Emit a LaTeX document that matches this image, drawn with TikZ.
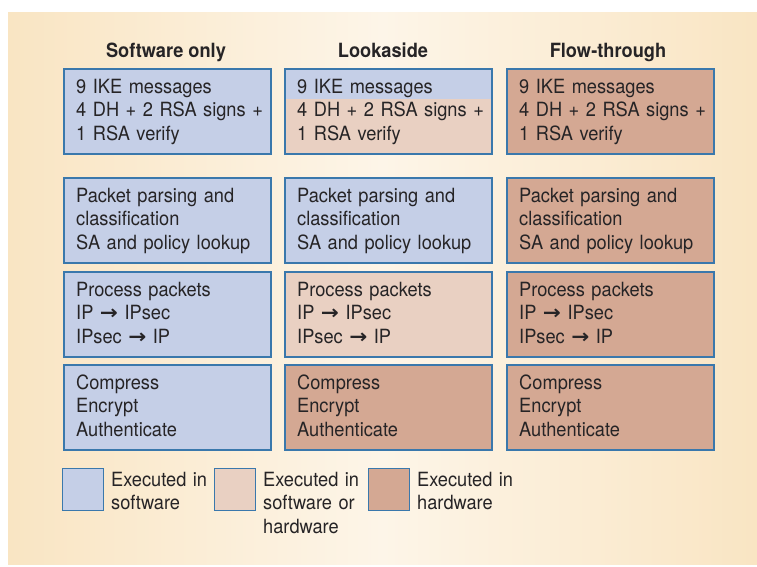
\documentclass[tikz,border=0pt]{standalone}
\usepackage{fontspec}
\setmainfont{TeX Gyre Heros}[FakeStretch=0.93]
\newfontfamily\arrowfont{DejaVu Sans}[FakeStretch=1.1]
\definecolor{bgedge}{RGB}{249,229,195}
\definecolor{bgmid}{RGB}{253,245,232}
\definecolor{swblue}{RGB}{197,207,231}
\definecolor{swhw}{RGB}{233,208,194}
\definecolor{hwbrown}{RGB}{212,168,147}
\definecolor{bordc}{RGB}{58,120,172}
\definecolor{txtc}{RGB}{38,36,38}
\newcommand{\rarr}{{\arrowfont\bfseries →}}
\tikzset{
  cell/.style={draw=bordc, line width=1.4pt, anchor=north west, minimum width=207pt, minimum height=85pt, inner sep=0pt, outer sep=0pt},
  legsq/.style={draw=bordc, line width=1.4pt, anchor=north west, minimum width=41pt, minimum height=42pt, inner sep=0pt},
  txt/.style={anchor=base west, inner sep=0pt, text=txtc, text width=200pt, align=left, font=\fontsize{19.6}{23.6}\selectfont},
  ttl/.style={anchor=base, inner sep=0pt, text=txtc, font=\fontsize{19.6}{22}\selectfont\bfseries},
}
\begin{document}
\begin{tikzpicture}[x=1pt,y=-1pt]
\useasboundingbox (0,0) rectangle (757,566);
\fill[white] (0,0) rectangle (757,566);
\shade[left color=bgedge, right color=bgedge, middle color=bgmid] (8,12) rectangle (757,564);
% titles
\node[ttl] (h1) at (166,57) {Software only};
\node[ttl] (h2) at (383,57) {Lookaside};
\node[ttl] (h3) at (608,57) {Flow-through};
% column 1
\node[cell, fill=swblue] (a1) at (64,69) {};
\node[cell, fill=swblue] (a2) at (64,178) {};
\node[cell, fill=swblue] (a3) at (64,272) {};
\node[cell, fill=swblue] (a4) at (64,365) {};
% column 2
\node[cell, fill=swhw] (b1) at (285,69) {};
\fill[swblue] ([shift={(0.7pt,-0.7pt)}]b1.north west) rectangle ([xshift=-0.7pt]b1.north east |- 0,99);
\draw[bordc, line width=1.4pt] (b1.north west) rectangle (b1.south east);
\node[cell, fill=swblue] (b2) at (285,178) {};
\node[cell, fill=swhw] (b3) at (285,272) {};
\node[cell, fill=hwbrown] (b4) at (285,365) {};
% column 3
\node[cell, fill=hwbrown] (c1) at (507,69) {};
\node[cell, fill=hwbrown] (c2) at (507,178) {};
\node[cell, fill=hwbrown] (c3) at (507,272) {};
\node[cell, fill=hwbrown] (c4) at (507,365) {};
% texts
\foreach \n in {a,b,c}{
  \node[txt] (\n1t) at ([xshift=12pt,yshift=-24pt]\n1.north west) {9 IKE messages\\4 DH + 2 RSA signs +\\1 RSA verify};
  \node[txt] (\n2t) at ([xshift=12pt,yshift=-24pt]\n2.north west) {Packet parsing and\\classification\\SA and policy lookup};
  \node[txt] (\n3t) at ([xshift=12pt,yshift=-24pt]\n3.north west) {Process packets\\IP \rarr{} IPsec\\IPsec \rarr{} IP};
  \node[txt] (\n4t) at ([xshift=12pt,yshift=-24pt]\n4.north west) {Compress\\Encrypt\\Authenticate};
}
% legend
\node[legsq, fill=swblue] (l1) at (62,468) {};
\node[legsq, fill=swhw] (l2) at (214,468) {};
\node[legsq, fill=hwbrown] (l3) at (368,468) {};
\node[txt] (l1t) at (111,486) {Executed in\\software};
\node[txt] (l2t) at (263,486) {Executed in\\software or\\hardware};
\node[txt] (l3t) at (417,486) {Executed in\\hardware};
\end{tikzpicture}
\end{document}
